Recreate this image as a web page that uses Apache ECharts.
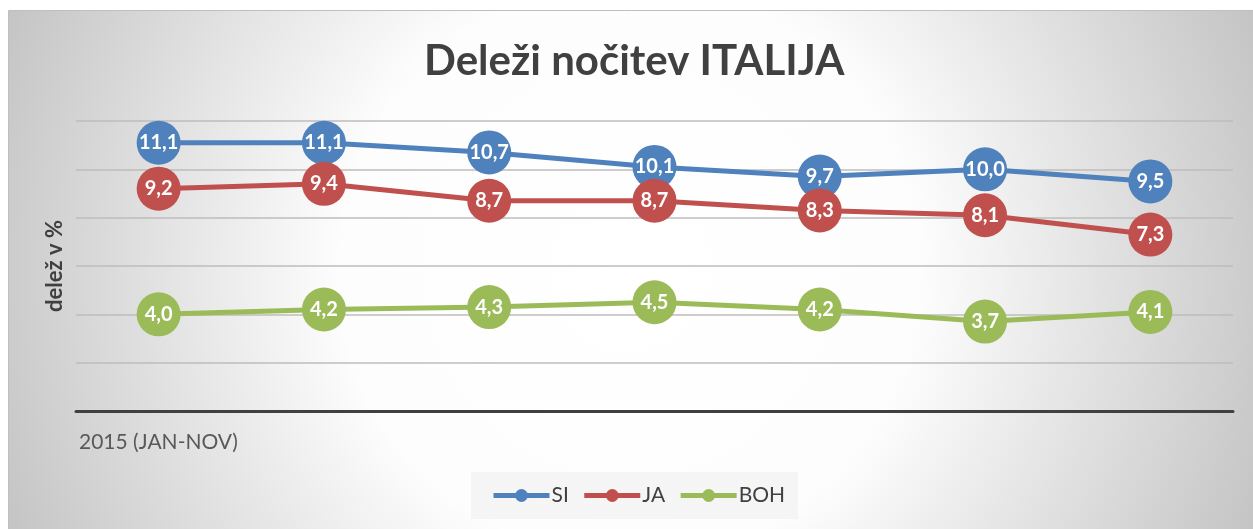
<!DOCTYPE html>
<html>
<head>
<meta charset="utf-8">
<script src="https://cdn.jsdelivr.net/npm/echarts@6/dist/echarts.min.js"></script>
<style>
  html, body { margin: 0; padding: 0; background: #ffffff; }
  #chart { width: 1253px; height: 529px; }
</style>
</head>
<body>
<div id="chart"></div>
<script>
// data
var categories = ['1', '2', '3', '4', '5', '6', '7'];
var seriesNames = ['SI', 'JA', 'BOH'];
var siData = [11.1, 11.1, 10.7, 10.1, 9.7, 10.0, 9.5];
var jaData = [9.2, 9.4, 8.7, 8.7, 8.3, 8.1, 7.3];
var bohData = [4.0, 4.2, 4.3, 4.5, 4.2, 3.7, 4.1];
var colors = ['#4f81bd', '#c0504d', '#9bbb59'];

var font = 'Lato, "Open Sans", sans-serif';

function makeSeries(name, data, color) {
  return {
    name: name,
    type: 'line',
    data: data,
    symbol: 'circle',
    symbolSize: 44,
    lineStyle: { width: 5, color: color },
    itemStyle: { color: color },
    label: {
      show: true,
      position: 'inside',
      color: '#ffffff',
      fontFamily: font,
      fontWeight: 'bold',
      fontSize: 20,
      formatter: function (p) {
        return p.value.toFixed(1).replace('.', ',');
      }
    },
    emphasis: { disabled: true }
  };
}

var myChart = echarts.init(document.getElementById('chart'));
var option = {
  animation: false,
  graphic: [{
    type: 'rect',
    z: -10,
    shape: { x: 8.5, y: 10.5, width: 1250, height: 525 },
    style: {
      stroke: '#bfbfbf',
      lineWidth: 1,
      fill: {
        type: 'radial', x: 630, y: 270, r: 690, global: true,
        colorStops: [
          { offset: 0, color: '#ffffff' },
          { offset: 0.42, color: '#fdfdfd' },
          { offset: 1, color: '#c2c2c2' }
        ]
      }
    }
  }],
  title: [{
    text: 'Deleži nočitev ITALIJA',
    left: 419,
    top: 35,
    textStyle: { fontFamily: font, fontWeight: 'bold', fontSize: 42, color: '#404040' }
  }, {
    text: '2015 (JAN-NOV)',
    left: 74,
    top: 427,
    textStyle: { fontFamily: font, fontWeight: 'normal', fontSize: 21, color: '#595959' }
  }],
  legend: {
    bottom: 10,
    left: 471,
    data: seriesNames,
    itemWidth: 56,
    itemHeight: 16,
    itemGap: 13,
    padding: [13, 13, 13, 20],
    backgroundColor: 'rgba(240,240,240,0.6)',
    lineStyle: { width: 5 },
    textStyle: { fontFamily: font, fontSize: 21, color: '#404040', padding: [0, 0, 0, -3] }
  },
  grid: { left: 76, right: 20, top: 121, bottom: 118 },
  xAxis: {
    type: 'category',
    data: categories,
    axisLine: { lineStyle: { color: '#404040', width: 3 } },
    axisTick: { show: false },
    axisLabel: { show: false }
  },
  yAxis: {
    type: 'value',
    min: 0,
    max: 12,
    interval: 2,
    name: 'delež v %',
    nameLocation: 'middle',
    nameGap: 10,
    nameRotate: 90,
    nameTextStyle: { fontFamily: font, fontWeight: 'bold', fontSize: 22, color: '#404040' },
    axisLine: { show: false },
    axisTick: { show: false },
    axisLabel: { show: false },
    splitLine: { lineStyle: { color: '#bcbcbc', width: 1.5 } }
  },
  series: [
    makeSeries(seriesNames[0], siData, colors[0]),
    makeSeries(seriesNames[1], jaData, colors[1]),
    makeSeries(seriesNames[2], bohData, colors[2])
  ]
};
myChart.setOption(option);
</script>
</body>
</html>
